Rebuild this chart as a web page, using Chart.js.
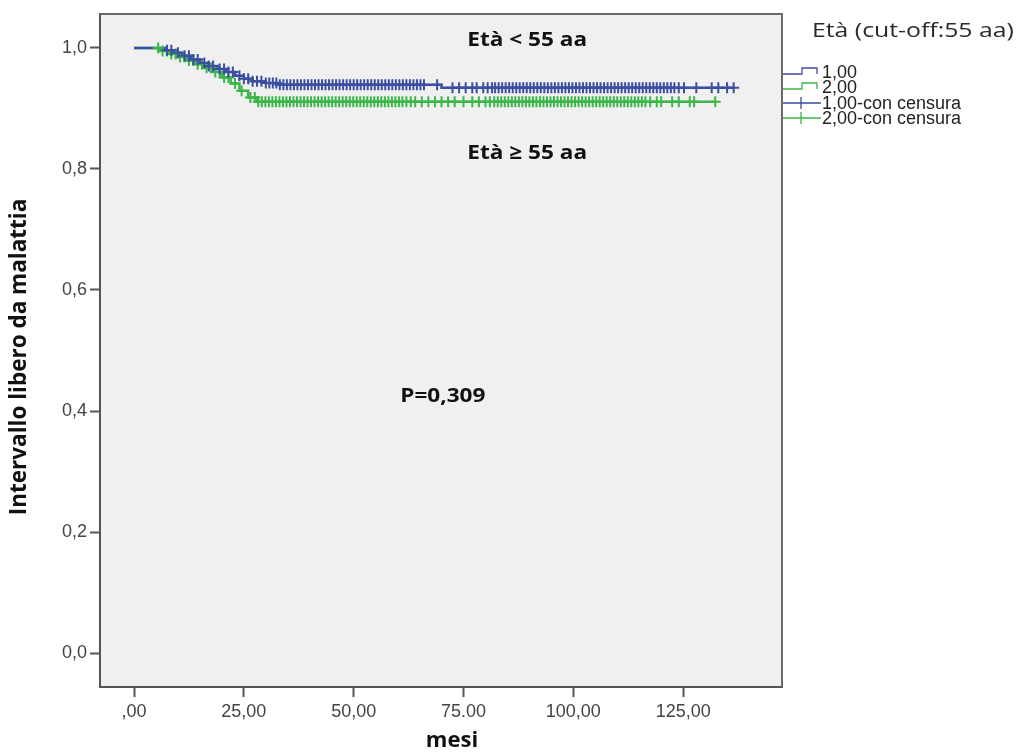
<!DOCTYPE html>
<html><head><meta charset="utf-8">
<script src="https://cdn.jsdelivr.net/npm/chart.js@4.4.0/dist/chart.umd.min.js"></script>
<style>html,body{margin:0;padding:0;background:#fff;}#wrap{width:1017px;height:755px;}</style>
</head><body><div id="wrap"><canvas id="c" width="1017" height="755"></canvas></div>
<script>
// ---- data ----
const xTickValues = [0, 25, 50, 75, 100, 125];
const xTickLabels = [",00", "25,00", "50,00", "75.00", "100,00", "125,00"];
const yTickValues = [0, 0.2, 0.4, 0.6, 0.8, 1.0];
const yTickLabels = ["0,0", "0,2", "0,4", "0,6", "0,8", "1,0"];
const legendTitle = "Età (cut-off:55 aa)";
const legendLabels = ["1,00", "2,00", "1,00-con censura", "2,00-con censura"];
const xTitle = "mesi";
const yTitle = "Intervallo libero da malattia";
const notes = ["Età < 55 aa", "Età ≥ 55 aa", "P=0,309"];
const notePos = [[89.5, 1.012], [89.5, 0.826], [70.3, 0.424]];

// group 1,00 (< 55 aa): event times and survival after each time
const g1Times = [0, 7, 9, 11, 13, 15, 17, 19, 21, 23, 25, 27, 30, 33, 70, 136.5];
const g1Surv  = [1, 0.996, 0.992, 0.987, 0.981, 0.975, 0.970, 0.965, 0.960, 0.954, 0.949, 0.945, 0.942, 0.939, 0.934, 0.934];
const g1Censor = [7.5, 8.5, 10, 11.5, 12.5, 13.5, 14.5, 16, 17, 18, 19.5, 20.5, 21.5, 22.5, 24, 25, 26, 27, 28, 29, 30, 30.8, 31.6, 32.4, 33.2, 34, 34.8, 35.6, 36.4, 37.2, 38, 38.8, 39.6, 40.4, 41.2, 42, 42.8, 43.6, 44.4, 45.2, 46, 46.8, 47.6, 48.4, 49.2, 50, 50.8, 51.6, 52.4, 53.2, 54, 54.8, 55.6, 56.4, 57.2, 58, 58.8, 59.6, 60.4, 61.2, 62, 62.8, 63.6, 64.4, 65.2, 66, 69, 72.5, 74, 75.5, 77, 78, 79.5, 80.5, 81.5, 82.2, 83, 83.8, 84.6, 85.4, 86.2, 87, 87.8, 88.6, 89.4, 90.2, 91, 91.8, 92.6, 93.4, 94.2, 95, 95.8, 96.6, 97.4, 98.2, 99, 99.8, 100.6, 101.4, 102.2, 103, 103.8, 104.6, 105.4, 106.2, 107, 107.8, 108.6, 109.4, 110.2, 111, 111.8, 112.6, 113.4, 114.2, 115, 115.8, 116.6, 117.4, 118.2, 119, 119.8, 120.6, 121.4, 122.2, 123, 124, 125.2, 128, 131.5, 133, 135, 136.5];

// group 2,00 (>= 55 aa)
const g2Times = [0, 6, 8, 10, 12, 14, 16, 18, 20, 22, 24, 26, 28, 132.3];
const g2Surv  = [1, 0.995, 0.990, 0.985, 0.979, 0.973, 0.967, 0.960, 0.951, 0.941, 0.929, 0.918, 0.911, 0.911];
const g2Censor = [5.5, 6.5, 7.5, 8.5, 9.5, 10.5, 11.5, 12.5, 13.5, 14.5, 15.5, 16.5, 17.5, 18.5, 19.5, 20.5, 21.5, 23, 24.5, 26.5, 27.5, 28.3, 29.1, 29.9, 30.7, 31.5, 32.3, 33.1, 33.9, 34.7, 35.5, 36.3, 37.1, 37.9, 38.7, 39.5, 40.3, 41.1, 41.9, 42.7, 43.5, 44.3, 45.1, 45.9, 46.7, 47.5, 48.3, 49.1, 49.9, 50.7, 51.5, 52.3, 53.1, 53.9, 54.7, 55.5, 56.3, 57.1, 57.9, 58.7, 59.5, 60.3, 61.1, 62, 63, 64, 65.5, 67, 68.5, 70, 71.5, 73, 75, 77, 78.5, 80, 81, 82, 82.8, 83.6, 84.4, 85.2, 86, 86.8, 87.6, 88.4, 89.2, 90, 90.8, 91.6, 92.4, 93.2, 94, 94.8, 95.6, 96.4, 97.2, 98, 98.8, 99.6, 100.4, 101.2, 102, 102.8, 103.6, 104.4, 105.2, 106, 106.8, 107.6, 108.4, 109.2, 110, 110.8, 111.6, 112.4, 113.2, 114, 114.8, 115.6, 116.4, 117.5, 119, 120, 122.5, 124, 126.5, 127.5, 132.3];

const blue = "#3c4ea2";
const green = "#3cb64b";

function survAt(times, surv, t) {
  let v = surv[0];
  for (let i = 0; i < times.length; i++) { if (times[i] <= t) v = surv[i]; }
  return v;
}
const curve = (times, surv) => times.map((t, i) => ({x: t, y: surv[i]}));
const marks = (cens, times, surv) => cens.map(t => ({x: t, y: survAt(times, surv, t)}));

const PL = 0, PT = 14, PR = 235, CH = 755, AXB = 687;

function stretchText(ctx, text, x, y, sx) {
  ctx.save();
  ctx.translate(x, y);
  ctx.scale(sx, 1);
  ctx.fillText(text, 0, 0);
  ctx.restore();
}

const decor = {
  id: 'decor',
  beforeDraw(chart) {
    const {ctx, chartArea: a} = chart;
    ctx.save();
    ctx.fillStyle = '#f0f0f0';
    ctx.fillRect(a.left, a.top, a.right - a.left, a.bottom - a.top);
    ctx.restore();
  },
  afterDraw(chart) {
    const {ctx, chartArea: a, scales} = chart;
    ctx.save();
    ctx.strokeStyle = '#6a6a6a';
    ctx.lineWidth = 2;
    ctx.beginPath();
    ctx.moveTo(a.left, a.top); ctx.lineTo(a.right, a.top); ctx.lineTo(a.right, a.bottom);
    ctx.stroke();
    // annotations
    ctx.fillStyle = '#111';
    ctx.font = 'bold 20px "Open Sans"';
    ctx.textAlign = 'center'; ctx.textBaseline = 'middle';
    notes.forEach((n, i) => {
      stretchText(ctx, n, scales.x.getPixelForValue(notePos[i][0]), scales.y.getPixelForValue(notePos[i][1]), 1.13);
    });
    // axis titles
    ctx.font = 'bold 21px "Open Sans"';
    stretchText(ctx, xTitle, 452, 741, 1.05);
    ctx.save();
    ctx.translate(20, 357);
    ctx.rotate(-Math.PI / 2);
    ctx.font = 'bold 22.5px "Open Sans"';
    ctx.fillText(yTitle, 0, 0);
    ctx.restore();
    // legend
    ctx.textAlign = 'left';
    ctx.fillStyle = '#2a2a2a';
    ctx.font = '20px "Open Sans"';
    stretchText(ctx, legendTitle, 812, 31, 1.24);
    ctx.font = '18px "Liberation Sans"';
    ctx.fillStyle = '#222';
    const rows = [72, 87, 103, 118];
    const cols = [blue, green, blue, green];
    rows.forEach((y, i) => {
      ctx.strokeStyle = cols[i];
      ctx.lineWidth = 1.3;
      ctx.beginPath();
      if (i < 2) {
        ctx.moveTo(783, y + 2); ctx.lineTo(802, y + 2); ctx.lineTo(802, y - 4);
        ctx.lineTo(817, y - 4); ctx.lineTo(817, y + 2);
      } else {
        ctx.moveTo(783, y); ctx.lineTo(821, y);
        ctx.moveTo(801, y - 6); ctx.lineTo(801, y + 6);
      }
      ctx.stroke();
      ctx.fillText(legendLabels[i], 822, y + 1);
    });
    ctx.restore();
  }
};

new Chart(document.getElementById('c'), {
  type: 'line',
  data: {
    datasets: [
      {label: legendLabels[2], data: marks(g1Censor, g1Times, g1Surv), showLine: false,
       pointStyle: 'cross', pointRadius: 5.5, pointBorderWidth: 2, borderColor: blue, pointBorderColor: blue},
      {label: legendLabels[3], data: marks(g2Censor, g2Times, g2Surv), showLine: false,
       pointStyle: 'cross', pointRadius: 5.5, pointBorderWidth: 2, borderColor: green, pointBorderColor: green},
      {label: legendLabels[0], data: curve(g1Times, g1Surv), stepped: 'before', borderColor: blue,
       borderWidth: 2.5, pointRadius: 0, fill: false},
      {label: legendLabels[1], data: curve(g2Times, g2Surv), stepped: 'before', borderColor: green,
       borderWidth: 2.5, pointRadius: 0, fill: false}
    ]
  },
  options: {
    responsive: false, animation: false, devicePixelRatio: 1,
    layout: {padding: {left: PL, top: PT, right: PR, bottom: 0}},
    plugins: {legend: {display: false}, tooltip: {enabled: false}, title: {display: false}},
    scales: {
      x: {
        type: 'linear', min: -7.74, max: 147.5,
        afterBuildTicks: s => { s.ticks = xTickValues.map(v => ({value: v})); },
        afterFit: s => { s.height = CH - AXB; },
        ticks: {callback: (v, i) => xTickLabels[i], color: '#444', padding: 4, maxRotation: 0,
                font: {family: '"Liberation Sans"', size: 18}},
        grid: {display: true, drawOnChartArea: false, drawTicks: true, tickLength: 10, tickColor: '#555', tickWidth: 2},
        border: {display: true, color: '#555', width: 2}
      },
      y: {
        type: 'linear', min: -0.056, max: 1.056,
        afterBuildTicks: s => { s.ticks = yTickValues.map(v => ({value: v})); },
        afterFit: s => { s.width = 100 - PL; },
        ticks: {callback: (v, i) => yTickLabels[i], color: '#444', padding: 3,
                font: {family: '"Liberation Sans"', size: 18}},
        grid: {display: true, drawOnChartArea: false, drawTicks: true, tickLength: 10, tickColor: '#555', tickWidth: 2},
        border: {display: true, color: '#555', width: 2}
      }
    }
  },
  plugins: [decor]
});
</script></body></html>
